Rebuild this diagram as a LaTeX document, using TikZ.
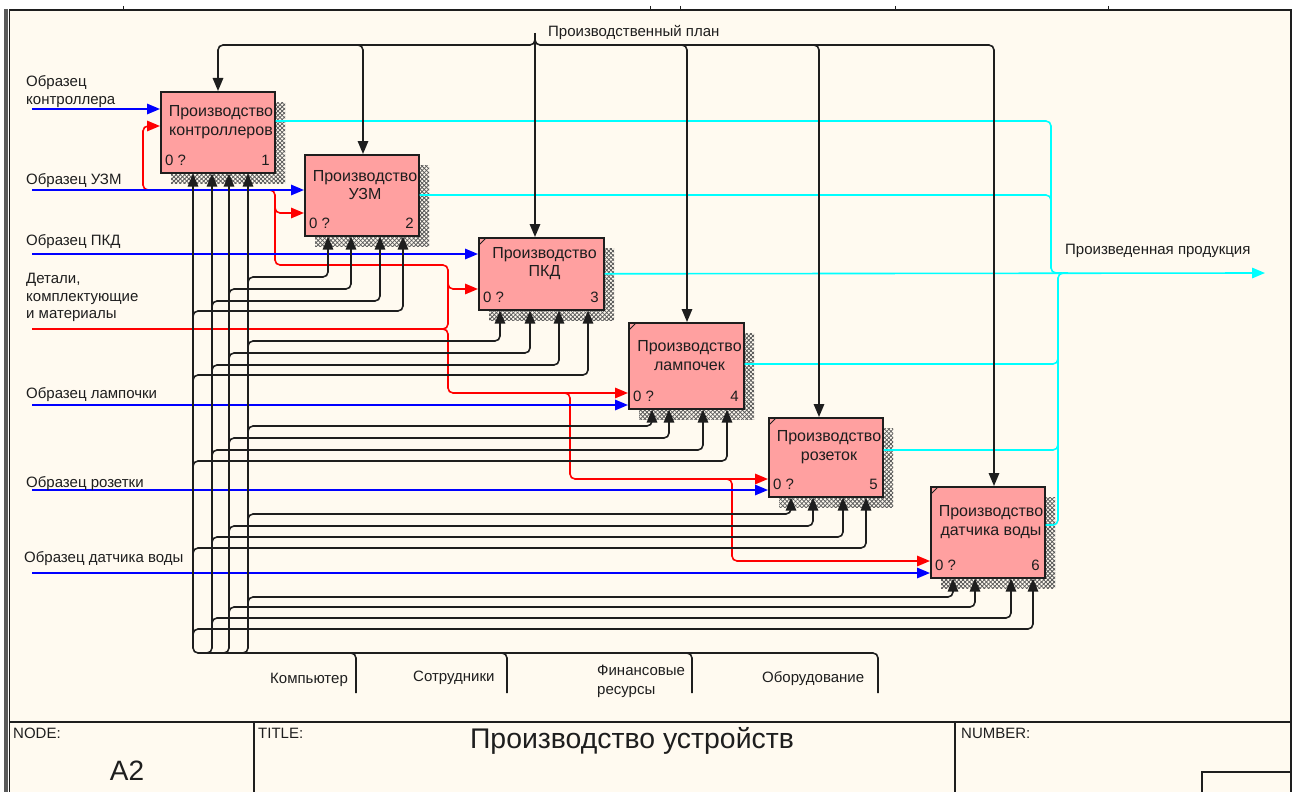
\documentclass[tikz,border=0pt]{standalone}
\usepackage{fontspec}
\setmainfont{Liberation Sans}
\usetikzlibrary{arrows.meta,patterns.meta}

\definecolor{paper}{RGB}{255,250,240}
\definecolor{boxfill}{RGB}{255,160,160}
\definecolor{ink}{RGB}{30,30,30}
\definecolor{outcyan}{RGB}{0,255,255}
\definecolor{inblue}{RGB}{0,0,255}
\definecolor{inred}{RGB}{255,0,0}
\definecolor{framegray}{RGB}{90,90,90}

\tikzset{
  lbl/.style={font=\fontsize{15}{18}\selectfont, inner sep=0pt, text=ink},
  boxtext/.style={font=\fontsize{16}{18.5}\selectfont, inner sep=0pt, text=ink, align=center},
  actbox/.style={draw=ink, line width=1.6pt, fill=boxfill, anchor=north west, inner sep=0pt},
  hatchA/.style={pattern={Lines[angle=45,distance=3pt,line width=0.8pt]}, pattern color=black!65},
  hatchB/.style={pattern={Lines[angle=-45,distance=3pt,line width=0.8pt]}, pattern color=black!65},
  arr/.style={-{Triangle[length=13pt,width=10.5pt]}},
  wire/.style={line width=1.6pt, rounded corners=5pt},
  ctrl/.style={wire, draw=ink},
  mech/.style={wire, draw=ink},
  inp/.style={wire, draw=inblue},
  raw/.style={wire, draw=inred},
  outp/.style={wire, draw=outcyan},
  frameline/.style={draw=ink, line width=1.3pt},
}

% activity box: name, x, y, width, height, number, caption
\newcommand\activity[7]{%
  \fill[hatchA] (#2+11,#3+11) rectangle ++(#4,#5);
  \fill[hatchB] (#2+11,#3+11) rectangle ++(#4,#5);
  \node[actbox, minimum width=#4, minimum height=#5] (#1) at (#2,#3) {};
  \node[boxtext] (#1t) at (#2+#4/2+4, #3+#5/2-9.5) {#7};
  \node[lbl, anchor=base west] (#1q) at (#2+5, #3+#5-6.5) {0 ?};
  \node[lbl, anchor=base east] (#1n) at (#2+#4-4, #3+#5-6.5) {#6};
}
% corner mark of a decomposed activity
\newcommand\cornermark[1]{%
  \draw[ink, line width=0.8pt] ([xshift=1pt,yshift=-8pt]#1.north west) -- ([xshift=8pt,yshift=-1pt]#1.north west);
}
% four mechanism feeds of one activity: box, arrow xs (left to right), row ys (top to bottom)
\newcommand\feeds[9]{%
  \draw[mech,arr] (248,#6+7) -- (248,#6) -- (#2,#6) -- (#2,#6 |- #1.south);
  \draw[mech,arr] (229,#7+7) -- (229,#7) -- (#3,#7) -- (#3,#7 |- #1.south);
  \draw[mech,arr] (212,#8+7) -- (212,#8) -- (#4,#8) -- (#4,#8 |- #1.south);
  \draw[mech,arr] (193,#9+7) -- (193,#9) -- (#5,#9) -- (#5,#9 |- #1.south);
}

\begin{document}
\begin{tikzpicture}[x=1pt,y=-1pt]
\useasboundingbox (0,0) rectangle (1299,792);
\fill[white] (0,0) rectangle (1299,792);
\fill[paper] (9,10) rectangle (1291,792);

% sheet frame
\fill[framegray] (4,9) rectangle (8,792);
\draw[frameline] (9.5,792) -- (9.5,10) -- (1291,10) -- (1291,792);
\foreach \x in {123,650,680,895,1108} \draw[ink, line width=1pt] (\x,6) -- (\x,10);

% title block
\draw[ink, line width=1.8pt] (9.5,722) -- (1291,722);
\draw[ink, line width=1.5pt] (254,722) -- (254,792);
\draw[ink, line width=1.5pt] (955,722) -- (955,792);
\draw[ink, line width=1.5pt] (1202,792) -- (1202,772) -- (1291,772);
\node[inner sep=0pt, anchor=base west, font=\fontsize{15}{18}\selectfont, text=ink] (nodeLbl) at (13,738) {NODE:};
\node[inner sep=0pt, anchor=base west, font=\fontsize{15}{18}\selectfont, text=ink] (titleLbl) at (258,738) {TITLE:};
\node[inner sep=0pt, anchor=base west, font=\fontsize{15}{18}\selectfont, text=ink] (numLbl) at (961,738) {NUMBER:};
\node[inner sep=0pt, anchor=base, font=\fontsize{28}{32}\selectfont, text=ink] (nodeNo) at (127,780) {A2};
\node[inner sep=0pt, anchor=base, font=\fontsize{28.4}{32}\selectfont, text=ink] (title) at (632,748) {Производство устройств};

% activities
\activity{b1}{160}{91}{114}{81}{1}{Производство\\контроллеров}
\activity{b2}{304}{154}{114}{81}{2}{Производство\\УЗМ}
\activity{b3}{478}{237}{125}{72}{3}{Производство\\ПКД}
\activity{b4}{628}{322}{115}{86}{4}{Производство\\лампочек}
\activity{b5}{768}{417}{114}{79}{5}{Производство\\розеток}
\activity{b6}{930}{486}{114}{91}{6}{Производство\\датчика воды}
\cornermark{b3}
\cornermark{b4}
\cornermark{b5}
\cornermark{b6}

% outputs
\coordinate (prod) at (1265,273);
\draw[outp,arr] (b3.east) -- (prod);
\draw[outp] (b1.east |- 0,121) -- (1051,121) -- (1051,273) -- (1062,273);
\draw[outp] (b2.east |- 0,195) -- (1051,195) -- (1051,205);
\draw[outp] (b6.east |- 0,525) -- (1058,525) -- (1058,273) -- (1068,273);
\draw[outp] (b4.east |- 0,364) -- (1058,364) -- (1058,354);
\draw[outp] (b5.east |- 0,450) -- (1058,450) -- (1058,440);
\node[lbl, anchor=base west] (prodLbl) at (1065,254) {Произведенная продукция};

% parts and materials
\coordinate (rawIn) at (32,329);
\draw[raw,arr] (rawIn) -- (448,329) -- (448,393) -- (b4.west |- 0,393);
\draw[raw,arr] (442,329) -- (448,329) -- (448,265) -- (275,265) -- (275,190) -- (143,190) -- (143,126) -- (b1.west |- 0,126);
\draw[raw,arr] (275,206) -- (275,213) -- (b2.west |- 0,213);
\draw[raw,arr] (448,282) -- (448,289) -- (b3.west |- 0,289);
\draw[raw,arr] (564,393) -- (570,393) -- (570,479) -- (b5.west |- 0,479);
\draw[raw,arr] (726,479) -- (732,479) -- (732,561) -- (b6.west |- 0,561);
\node[lbl, anchor=base west] (rawL1) at (26,283) {Детали,};
\node[lbl, anchor=base west] (rawL2) at (26,301) {комплектующие};
\node[lbl, anchor=base west] (rawL3) at (26,318) {и материалы};

% sample inputs
\coordinate (s1) at (32,109);
\coordinate (s2) at (32,190);
\coordinate (s3) at (32,254);
\coordinate (s4) at (32,405);
\coordinate (s5) at (32,490);
\coordinate (s6) at (32,573);
\draw[inp,arr] (s1) -- (s1 -| b1.west);
\draw[inp,arr] (s2) -- (s2 -| b2.west);
\draw[inp,arr] (s3) -- (s3 -| b3.west);
\draw[inp,arr] (s4) -- (s4 -| b4.west);
\draw[inp,arr] (s5) -- (s5 -| b5.west);
\draw[inp,arr] (s6) -- (s6 -| b6.west);
\node[lbl, anchor=base west] (s1a) at (26,87) {Образец};
\node[lbl, anchor=base west] (s1b) at (26,104) {контроллера};
\node[lbl, anchor=base west] (s2l) at (26,184) {Образец УЗМ};
\node[lbl, anchor=base west] (s3l) at (26,245) {Образец ПКД};
\node[lbl, anchor=base west] (s4l) at (26,398) {Образец лампочки};
\node[lbl, anchor=base west] (s5l) at (26,487) {Образец розетки};
\node[lbl, anchor=base west] (s6l) at (24,562) {Образец датчика воды};

% production plan control
\coordinate (plan) at (535,33);
\coordinate (busL) at (218,45);
\coordinate (busR) at (994,45);
\draw[ctrl,arr] (plan) -- (plan |- b3.north);
\draw[ctrl,arr] (535,39) -- (535,45) -- (busL) -- (busL |- b1.north);
\draw[ctrl,arr] (535,39) -- (535,45) -- (busR) -- (busR |- b6.north);
\foreach \x/\b in {363/b2, 687/b4, 819/b5}
  \draw[ctrl,arr] (\x-7,45) -- (\x,45) -- (\x,45 |- \b.north);
\node[lbl, anchor=base west] (planLbl) at (548,37) {Производственный план};

% mechanisms
\draw[mech,arr] (878,693) -- (878,653) -- (193,653) -- (193,653 |- b1.south);
\foreach \x in {212,229,248}
  \draw[mech,arr] (\x-7,653) -- (\x,653) -- (\x,653 |- b1.south);
\foreach \x in {356,507,692}
  \draw[mech] (\x,693) -- (\x,653) -- (\x-8,653);
\feeds{b2}{328}{351}{380}{403}{277}{289}{301}{311}
\feeds{b3}{500}{530}{559}{588}{341}{353}{365}{375}
\feeds{b4}{652}{669}{703}{727}{426}{438}{450}{461}
\feeds{b5}{791}{813}{843}{866}{514}{526}{537}{548}
\feeds{b6}{953}{975}{1011}{1033}{597}{607}{618}{629}
\node[lbl, anchor=base west] (m1) at (270,683) {Компьютер};
\node[lbl, anchor=base west] (m2) at (413,681) {Сотрудники};
\node[lbl, anchor=base west] (m3a) at (597,675) {Финансовые};
\node[lbl, anchor=base west] (m3b) at (597,694) {ресурсы};
\node[lbl, anchor=base west] (m4) at (762,682) {Оборудование};
\end{tikzpicture}
\end{document}
